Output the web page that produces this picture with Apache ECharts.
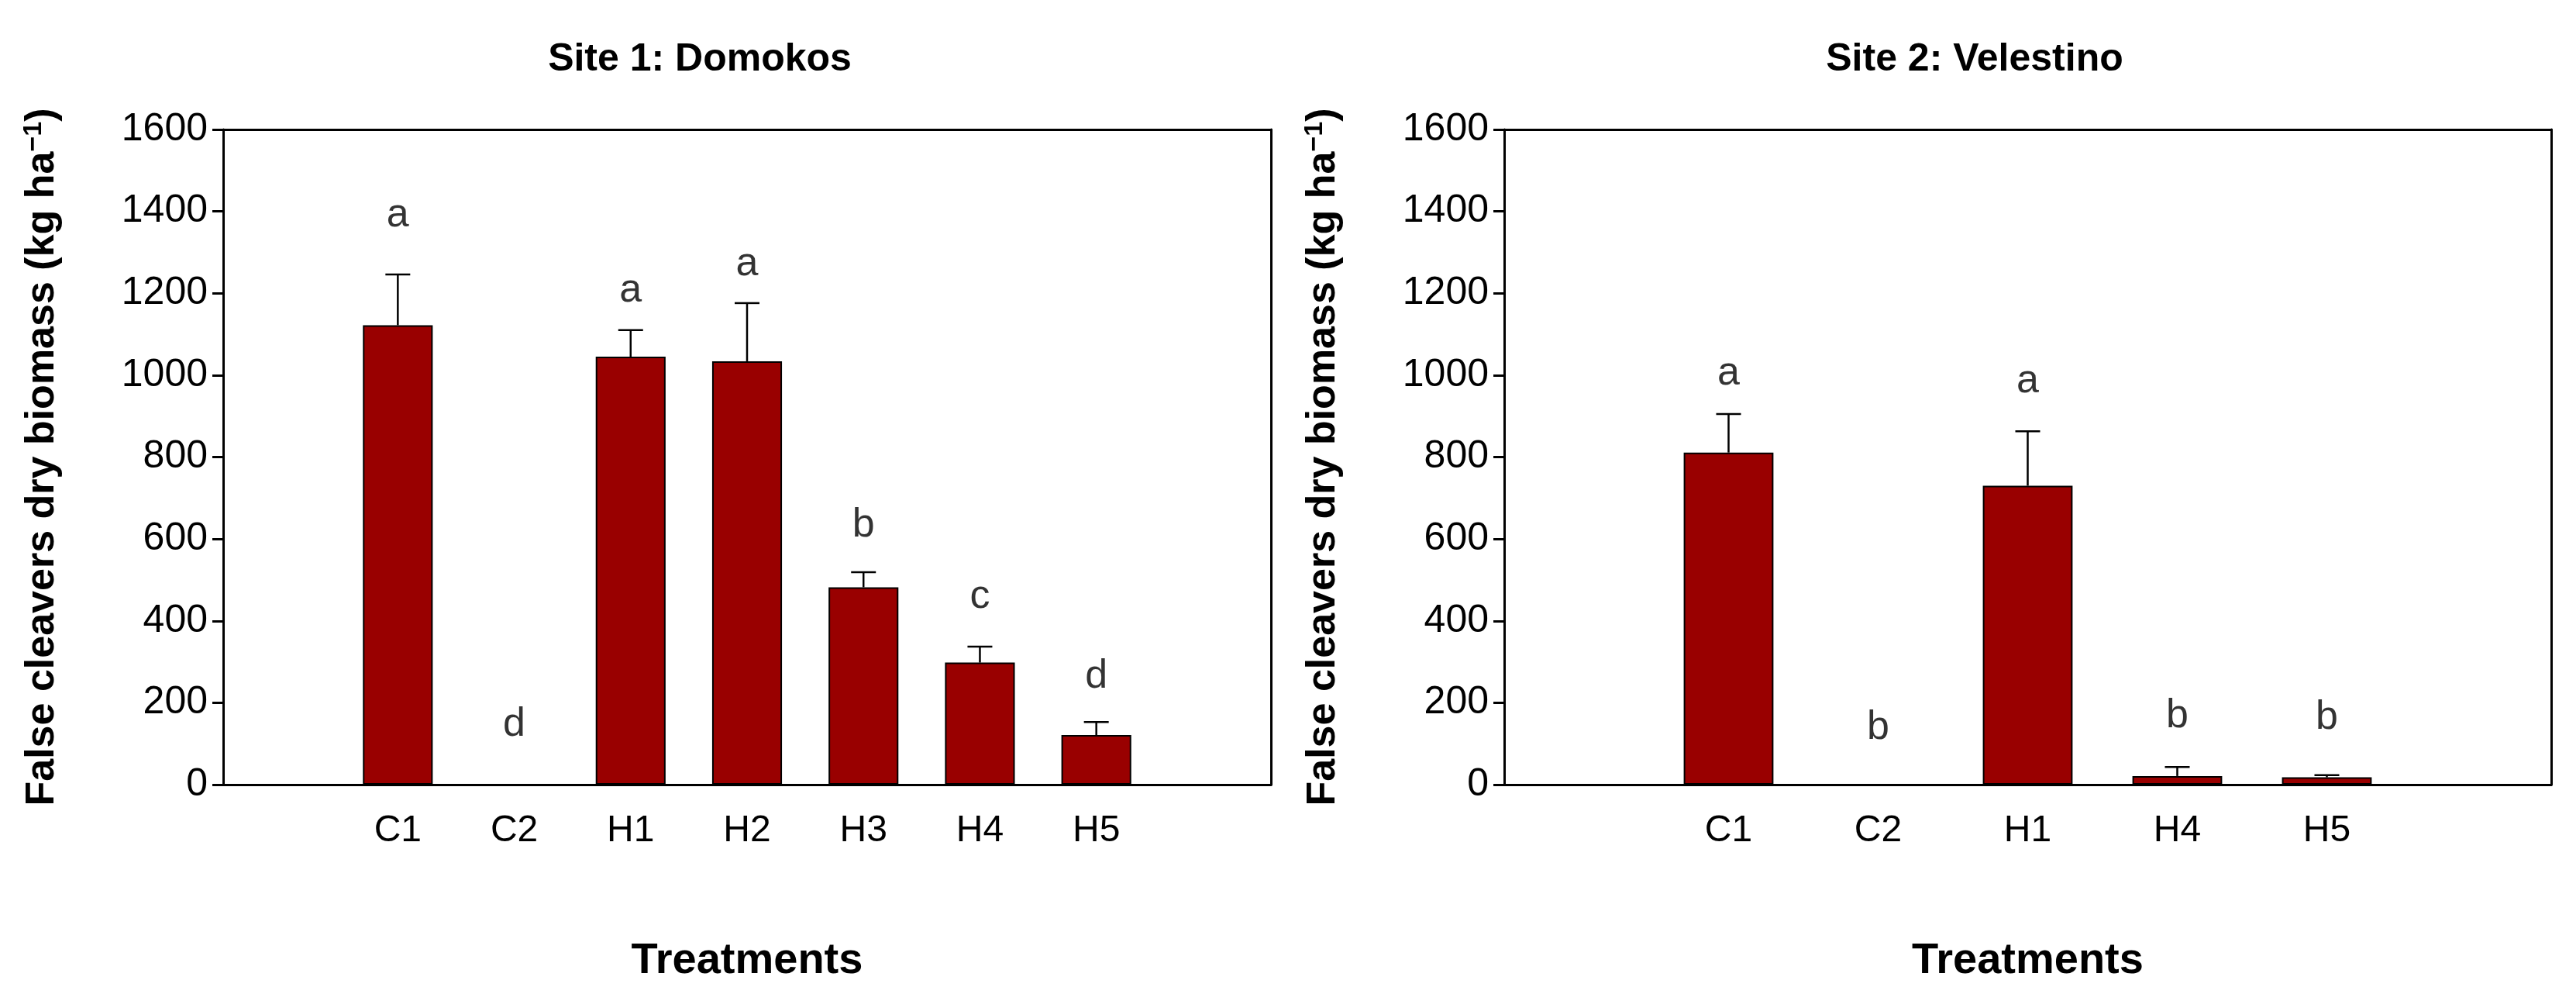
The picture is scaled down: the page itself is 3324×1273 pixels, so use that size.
<!DOCTYPE html>
<html><head><meta charset="utf-8">
<script src="https://cdn.jsdelivr.net/npm/echarts@6/dist/echarts.min.js"></script>
<style>html,body{margin:0;background:#fff}#c{width:3324px;height:1273px}</style>
</head><body><div id="c"></div>
<script>
var cats1 = ['', 'C1', 'C2', 'H1', 'H2', 'H3', 'H4', 'H5', ''];
var means1 = [null, 1122, 0, 1045, 1034, 482, 298, 121, null];
var errs1 = [null, 1246, null, 1110, 1176, 519, 337, 153, null];
var letters1 = ['', 'a', 'd', 'a', 'a', 'b', 'c', 'd', ''];
var letterY1 = [null, 1391, 147, 1206, 1271, 634, 459, 263, null];

var cats2 = ['', 'C1', 'C2', 'H1', 'H4', 'H5', ''];
var means2 = [null, 811, 0, 730, 21, 18, null];
var errs2 = [null, 905, null, 863, 43, 23, null];
var letters2 = ['', 'a', 'b', 'a', 'b', 'b', ''];
var letterY2 = [null, 1005, 138, 986, 167, 163, null];

var titles = ['Site 1: Domokos', 'Site 2: Velestino'];
var yTicksMax = 1600, yInterval = 200;

var FONT = 'Liberation Sans';
var chart = echarts.init(document.getElementById('c'));
var grids = [
  {left: 288, right: 3324 - 1640, top: 167, bottom: 1273 - 1012},
  {left: 1941, right: 3324 - 3292, top: 167, bottom: 1273 - 1013}
];
var cats = [cats1, cats2], means = [means1, means2], errs = [errs1, errs2],
    letters = [letters1, letters2], letterY = [letterY1, letterY2];
var xAxes = [], yAxes = [], series = [];
for (var g = 0; g < 2; g++) {
  (function(g){
  var c = cats[g];
  xAxes.push({gridIndex: g, type: 'category', data: c, position: 'bottom',
    name: 'Treatments', nameLocation: 'middle', nameGap: 200,
    nameTextStyle: {fontFamily: FONT, fontWeight: 'bold', fontSize: 56, color: '#000'},
    axisLine: {onZero: false, lineStyle: {color: '#000', width: 3}},
    axisTick: {inside: false, length: 16, alignWithLabel: true, lineStyle: {color: '#000', width: 3},
      interval: function(i, v){ return v !== ''; }},
    axisLabel: {interval: 0, margin: 36, fontFamily: FONT, fontSize: 48, color: '#000'},
    splitLine: {show: false}});
  xAxes.push({gridIndex: g, type: 'category', data: c, position: 'top',
    axisLine: {show: true, onZero: false, lineStyle: {color: '#000', width: 3}}, axisTick: {show: false}, axisLabel: {show: false}});
  yAxes.push({gridIndex: g, type: 'value', min: 0, max: yTicksMax, interval: yInterval, position: 'left',
    name: 'False cleavers dry biomass (kg ha{sup|\u22121})', nameLocation: 'middle', nameGap: 205,
    nameTextStyle: {fontFamily: FONT, fontWeight: 'bold', fontSize: 52, color: '#000',
      rich: {sup: {fontFamily: FONT, fontWeight: 'bold', fontSize: 34, verticalAlign: 'top', padding: [0,0,22,0], color: '#000'}}},
    axisLine: {show: true, onZero: false, lineStyle: {color: '#000', width: 3}},
    axisTick: {show: true, length: 14, lineStyle: {color: '#000', width: 3}},
    axisLabel: {margin: 20, fontFamily: FONT, fontSize: 50, color: '#000', formatter: function(v){ return String(v); }},
    splitLine: {show: false}});
  yAxes.push({gridIndex: g, type: 'value', min: 0, max: yTicksMax, position: 'right',
    axisLine: {show: true, onZero: false, lineStyle: {color: '#000', width: 3}}, axisTick: {show: false},
    axisLabel: {show: false}, splitLine: {show: false}});
  var xi = g * 2, yi = g * 2;
  series.push({type: 'bar', xAxisIndex: xi, yAxisIndex: yi, data: means[g], barWidth: '60%',
    itemStyle: {color: '#990000', borderColor: '#000', borderWidth: 2}, silent: true});
  var ed = [];
  for (var i = 0; i < c.length; i++) if (errs[g][i] != null) ed.push([i, means[g][i], errs[g][i]]);
  series.push({type: 'custom', xAxisIndex: xi, yAxisIndex: yi, data: ed, z: 5,
    renderItem: function(params, api){
      var lo = api.coord([api.value(0), api.value(1)]);
      var hi = api.coord([api.value(0), api.value(2)]);
      var w = 16;
      return {type: 'group', children: [
        {type: 'line', shape: {x1: lo[0], y1: lo[1], x2: hi[0], y2: hi[1]}, style: {stroke: '#000', lineWidth: 2.5}},
        {type: 'line', shape: {x1: hi[0] - w, y1: hi[1], x2: hi[0] + w, y2: hi[1]}, style: {stroke: '#000', lineWidth: 2.5}}
      ]};
    }});
  var ld = [];
  for (var j = 0; j < c.length; j++) if (letterY[g][j] != null) ld.push({value: [j, letterY[g][j]], name: letters[g][j]});
  series.push({type: 'scatter', xAxisIndex: xi, yAxisIndex: yi, data: ld, symbolSize: 0,
    label: {show: true, position: 'inside', formatter: function(p){ return p.name; },
      fontFamily: FONT, fontSize: 52, color: '#000'}});
  })(g);
}
chart.setOption({
  animation: false,
  title: [
    {text: titles[0], left: 898, top: 72, textAlign: 'center', textVerticalAlign: 'middle',
      textStyle: {fontFamily: FONT, fontWeight: 'bold', fontSize: 50, color: '#000'}},
    {text: titles[1], left: 2543, top: 72, textAlign: 'center', textVerticalAlign: 'middle',
      textStyle: {fontFamily: FONT, fontWeight: 'bold', fontSize: 50, color: '#000'}}
  ],
  grid: grids, xAxis: xAxes, yAxis: yAxes, series: series
});
</script></body></html>
